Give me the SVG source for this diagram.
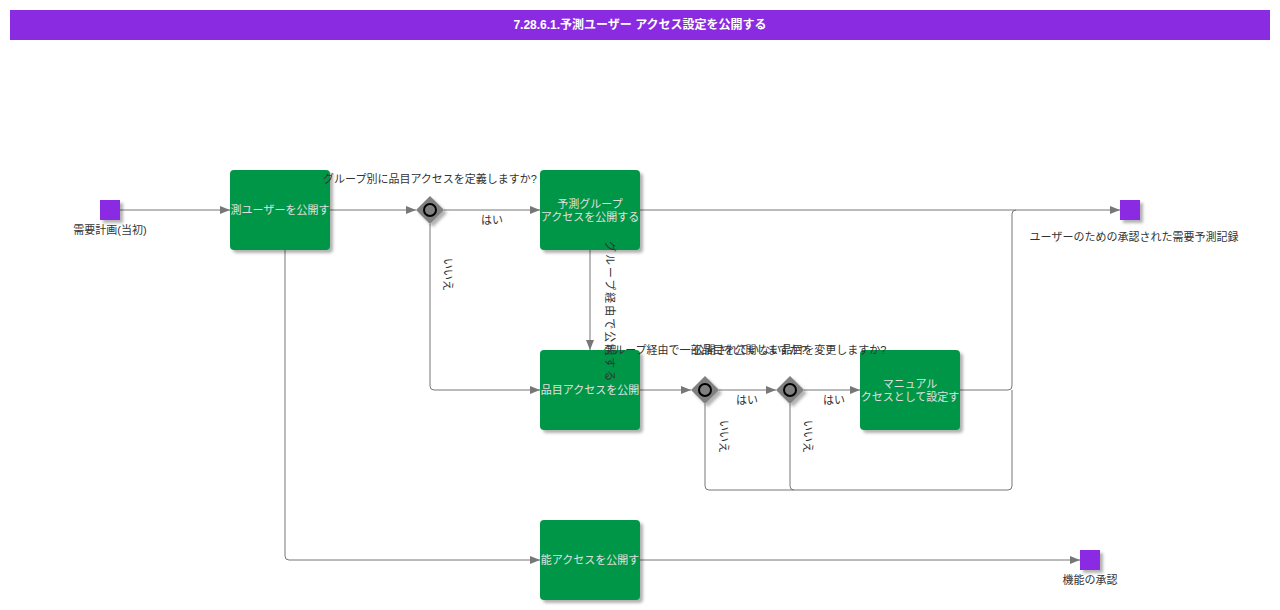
<svg xmlns="http://www.w3.org/2000/svg" width="1280" height="610" viewBox="0 0 1280 610">
<style>
text{font-family:"Liberation Sans","Noto Sans CJK JP",sans-serif;font-size:11px}
.lbl{fill:#333}
.tt{fill:#e0e0e0;text-anchor:middle}
.task{fill:#009646}
.ev{fill:#8a2be2}
.ln{fill:none;stroke:#777;stroke-width:1}
.gw{fill:#808080}
</style>
<defs>
<filter id="sh" x="-20%" y="-20%" width="150%" height="150%">
<feDropShadow dx="3" dy="3" stdDeviation="1.5" flood-color="#000" flood-opacity="0.3"/>
</filter>
<marker id="ar" markerWidth="10" markerHeight="8" refX="10" refY="4" orient="auto" markerUnits="userSpaceOnUse">
<path d="M0,0 L10,4 L0,8 z" fill="#777"/>
</marker>
</defs>
<rect x="10" y="10" width="1260" height="30" fill="#8a2be2"/>
<text x="640" y="29" text-anchor="middle" style="font-size:12px;font-weight:bold" fill="#fff">7.28.6.1.予測ユーザー アクセス設定を公開する</text>
<g id="connectors">
<path class="ln" d="M120,210 H230" marker-end="url(#ar)"/>
<path class="ln" d="M330,210 H416" marker-end="url(#ar)"/>
<path class="ln" d="M444,210 H540" marker-end="url(#ar)"/>
<path class="ln" d="M640,210 H1120" marker-end="url(#ar)"/>
<path class="ln" d="M430,224 V386 Q430,390 434,390 H540" marker-end="url(#ar)"/>
<path class="ln" d="M590,250 V350" marker-end="url(#ar)"/>
<path class="ln" d="M640,390 H691" marker-end="url(#ar)"/>
<path class="ln" d="M719,390 H776" marker-end="url(#ar)"/>
<path class="ln" d="M804,390 H860" marker-end="url(#ar)"/>
<path class="ln" d="M960,390 H1008 Q1012,390 1012,386 V214 Q1012,210 1016,210"/>
<path class="ln" d="M705,404 V486 Q705,490 709,490 H1008 Q1012,490 1012,486 V390"/>
<path class="ln" d="M790,404 V486 Q790,490 794,490"/>
<path class="ln" d="M285,250 V556 Q285,560 289,560 H540" marker-end="url(#ar)"/>
<path class="ln" d="M640,560 H1080" marker-end="url(#ar)"/>
</g>
<g id="start">
<rect class="ev" x="100" y="200" width="20" height="20" filter="url(#sh)"/>
<text class="lbl" x="110" y="234" text-anchor="middle">需要計画(当初)</text>
</g>
<g id="task1">
<rect class="task" x="230" y="170" width="100" height="80" rx="4" filter="url(#sh)"/>
<text class="tt" x="280" y="214">測ユーザーを公開す</text>
</g>
<g id="gw1">
<path class="gw" d="M430,196 L444,210 L430,224 L416,210 z" filter="url(#sh)"/>
<circle cx="430" cy="210" r="6" fill="none" stroke="#000" stroke-width="2"/>
</g>
<g id="task2">
<rect class="task" x="540" y="170" width="100" height="80" rx="4" filter="url(#sh)"/>
<text class="tt" x="590" y="208">予測グループ</text>
<text class="tt" x="590" y="221">アクセスを公開する</text>
</g>
<g id="end1">
<rect class="ev" x="1120" y="200" width="20" height="20" filter="url(#sh)"/>
<text class="lbl" x="1134" y="241" text-anchor="middle">ユーザーのための承認された需要予測記録</text>
</g>
<g id="task3">
<rect class="task" x="540" y="350" width="100" height="80" rx="4" filter="url(#sh)"/>
<text class="tt" x="590" y="394">品目アクセスを公開</text>
</g>
<g id="gw2">
<path class="gw" d="M705,376 L719,390 L705,404 L691,390 z" filter="url(#sh)"/>
<circle cx="705" cy="390" r="6" fill="none" stroke="#000" stroke-width="2"/>
</g>
<g id="gw3">
<path class="gw" d="M790,376 L804,390 L790,404 L776,390 z" filter="url(#sh)"/>
<circle cx="790" cy="390" r="6" fill="none" stroke="#000" stroke-width="2"/>
</g>
<g id="task4">
<rect class="task" x="860" y="350" width="100" height="80" rx="4" filter="url(#sh)"/>
<text class="tt" x="910" y="388">マニュアル</text>
<text class="tt" x="910" y="401">クセスとして設定す</text>
</g>
<g id="task5">
<rect class="task" x="540" y="520" width="100" height="80" rx="4" filter="url(#sh)"/>
<text class="tt" x="590" y="564">能アクセスを公開す</text>
</g>
<g id="end2">
<rect class="ev" x="1080" y="550" width="20" height="20" filter="url(#sh)"/>
<text class="lbl" x="1090" y="584" text-anchor="middle">機能の承認</text>
</g>
<g id="connector-labels">
<text class="lbl" x="430" y="183" text-anchor="middle">グループ別に品目アクセスを定義しますか?</text>
<text class="lbl" x="492" y="224" text-anchor="middle">はい</text>
<text class="lbl" transform="translate(444,258) rotate(90)">いいえ</text>
<text class="lbl" transform="translate(606,241) rotate(90)" letter-spacing="2">グループ経由で公開する</text>
<text class="lbl" x="705" y="354" text-anchor="middle">グループ経由で一部品目を公開しますか?</text>
<text class="lbl" x="790" y="354" text-anchor="middle">公開されていない品目を変更しますか?</text>
<text class="lbl" x="747" y="404" text-anchor="middle">はい</text>
<text class="lbl" x="834" y="404" text-anchor="middle">はい</text>
<text class="lbl" transform="translate(720,420) rotate(90)">いいえ</text>
<text class="lbl" transform="translate(804,420) rotate(90)">いいえ</text>
</g>
</svg>
